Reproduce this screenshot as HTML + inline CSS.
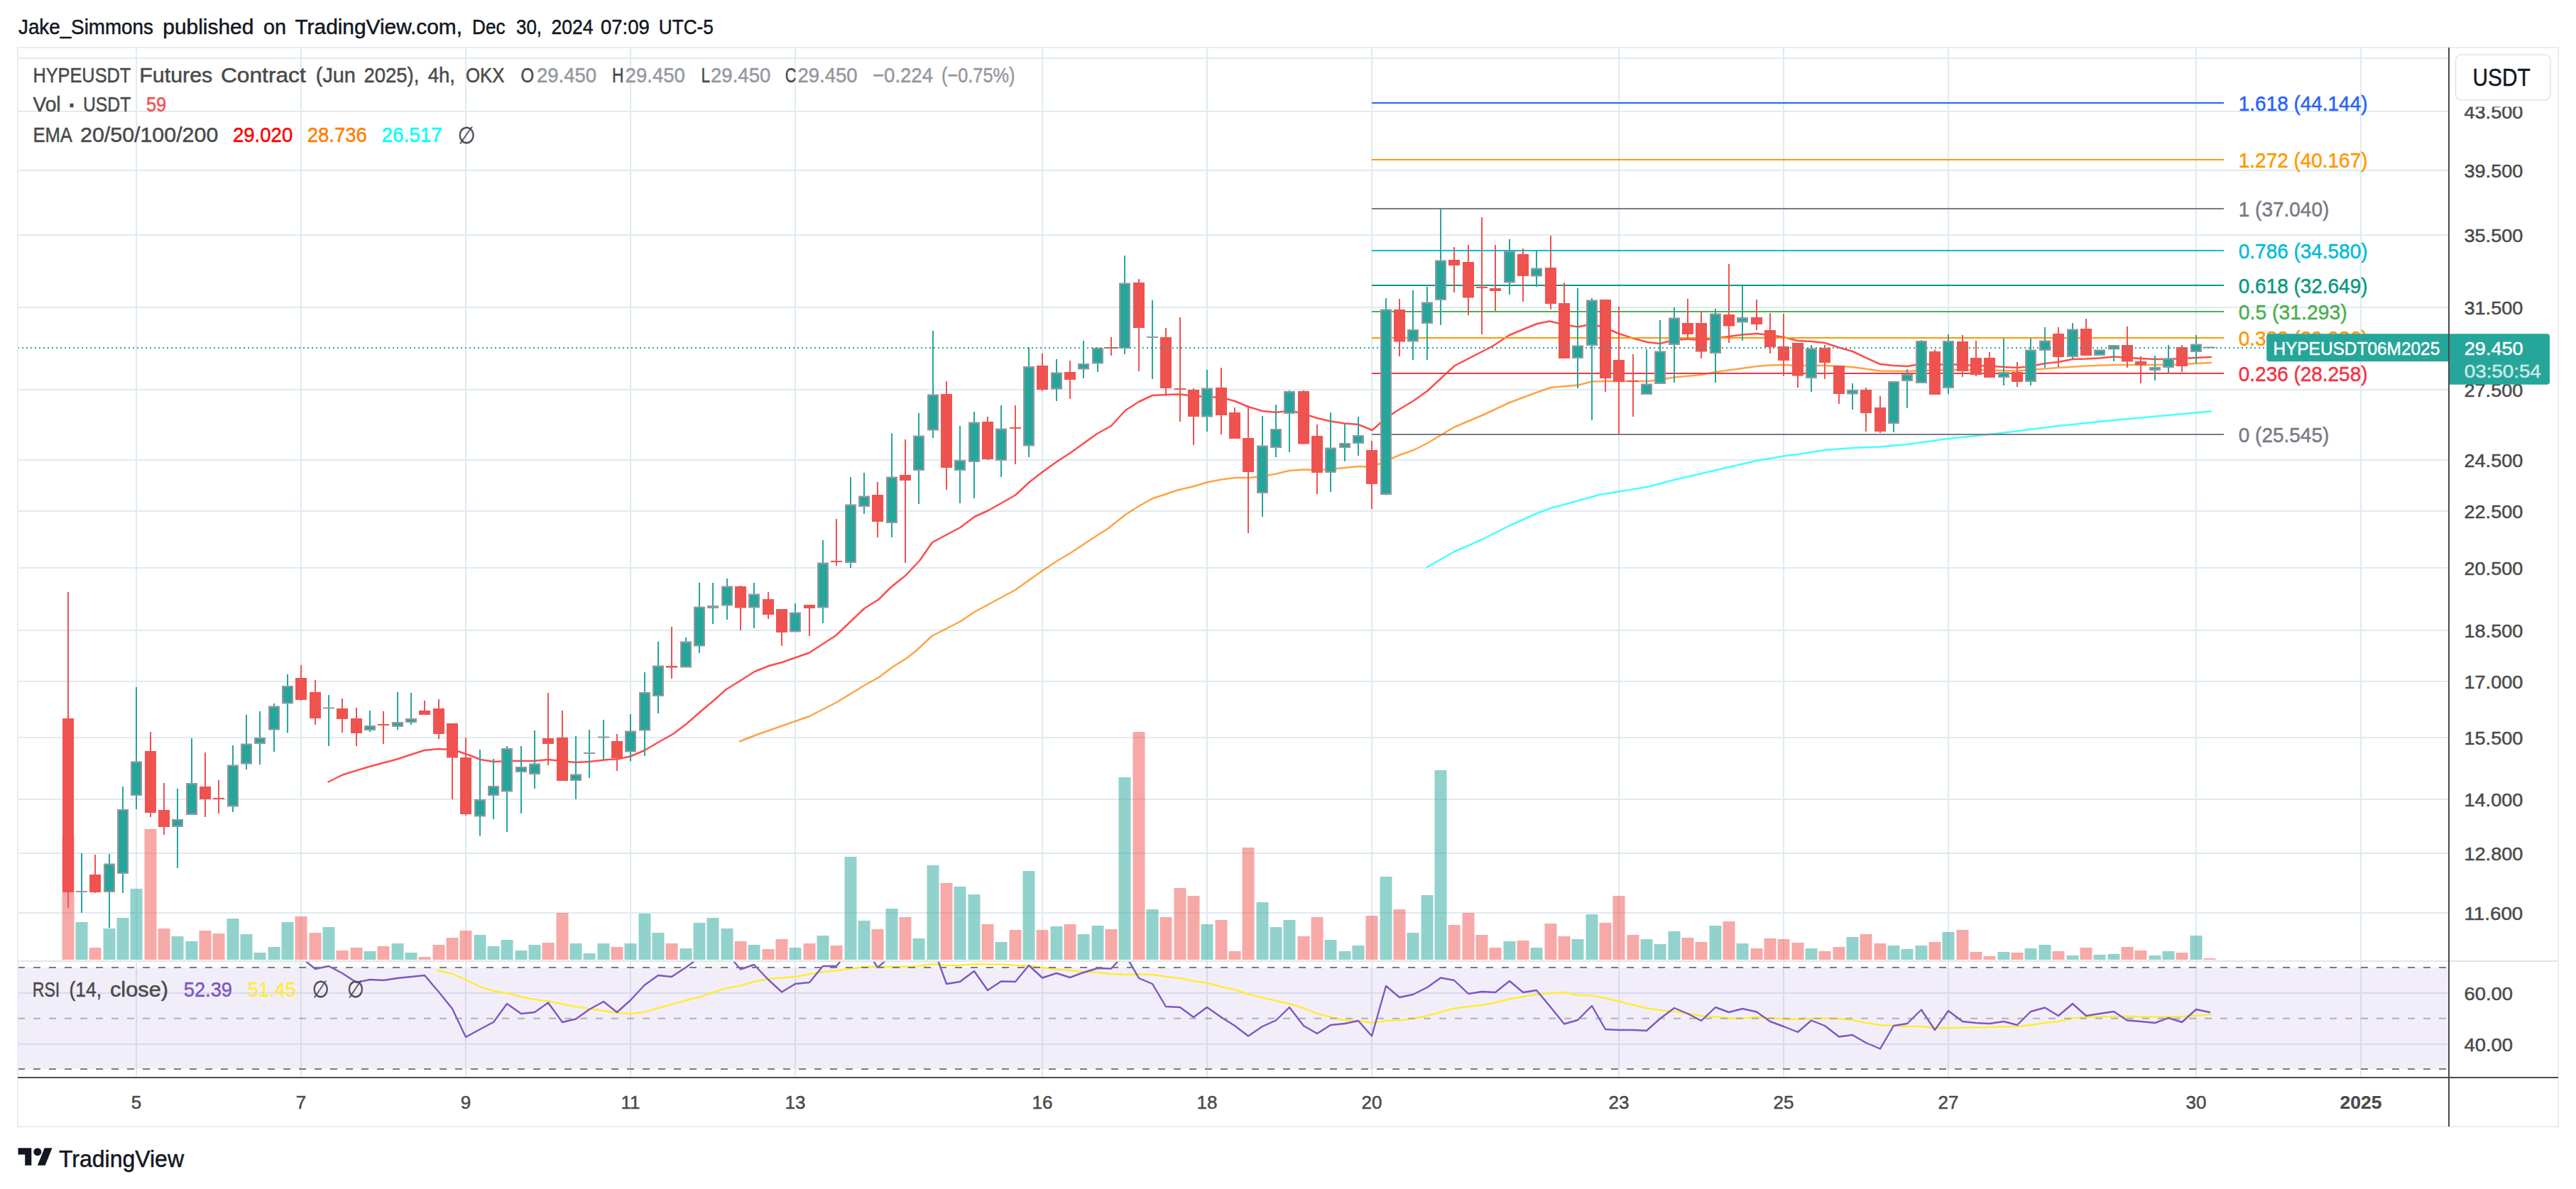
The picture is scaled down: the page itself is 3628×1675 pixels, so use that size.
<!DOCTYPE html>
<html lang="en"><head><meta charset="utf-8"><title>HYPEUSDT Futures Contract (Jun 2025), 4h, OKX - TradingView</title>
<style>html,body{margin:0;padding:0;background:#fff}svg{display:block}</style></head>
<body>
<svg width="3628" height="1675" viewBox="0 0 3628 1675" font-family='"Liberation Sans", "DejaVu Sans", sans-serif'>
<rect width="3628" height="1675" fill="#fff"/>
<defs>
<clipPath id="cm"><rect x="25" y="67" width="3424" height="1286"/></clipPath>
<clipPath id="cr"><rect x="25" y="1355" width="3424" height="163"/></clipPath>
<clipPath id="ca"><rect x="3449" y="150.5" width="154" height="1203.5"/></clipPath>
</defs>
<g stroke="#e0eaf1" stroke-width="2" fill="none">
<path d="M25 82H3449"/>
<path d="M25 157H3449"/>
<path d="M25 240H3449"/>
<path d="M25 331H3449"/>
<path d="M25 433H3449"/>
<path d="M25 549H3449"/>
<path d="M25 648H3449"/>
<path d="M25 720H3449"/>
<path d="M25 800H3449"/>
<path d="M25 888H3449"/>
<path d="M25 960H3449"/>
<path d="M25 1039H3449"/>
<path d="M25 1126H3449"/>
<path d="M25 1202H3449"/>
<path d="M25 1286H3449"/>
<path d="M192 67V1518"/>
<path d="M424 67V1518"/>
<path d="M656 67V1518"/>
<path d="M888 67V1518"/>
<path d="M1120 67V1518"/>
<path d="M1468 67V1518"/>
<path d="M1700 67V1518"/>
<path d="M1932 67V1518"/>
<path d="M2280 67V1518"/>
<path d="M2512 67V1518"/>
<path d="M2744 67V1518"/>
<path d="M3093 67V1518"/>
<path d="M3325 67V1518"/>
<path d="M25 1399H3449"/>
<path d="M25 1471H3449"/>
</g>
<rect x="25" y="1363" width="3424" height="143" fill="#7e57c2" fill-opacity="0.1"/>
<g clip-path="url(#cr)">
<path d="M366 1335 L386 1335 L405 1338 L424 1348.6 L444 1363 L463 1361 L482 1363 L502 1363 L521 1363 L540 1363 L560 1363 L579 1363 L598 1363 L618 1363 L637 1363 L656 1363 L676 1363 L695 1363 L714 1363 L734 1363 L753 1363 L772 1363 L792 1363 L811 1363 L830 1363 L850 1363 L869 1363 L888 1363 L908 1363 L927 1363 L946 1363 L966 1362.7 L985 1349 L1004 1340 L1024 1343.3 L1043 1363 L1062 1359 L1082 1363 L1101 1363 L1120 1363 L1140 1363 L1159 1361 L1178 1361 L1198 1336 L1217 1333 L1236 1363 L1256 1345.6 L1275 1338 L1294 1338 L1314 1333.8 L1333 1363 L1352 1363 L1372 1363 L1391 1363 L1410 1363 L1430 1363 L1449 1360 L1468 1363 L1488 1363 L1507 1363 L1526 1363 L1546 1363 L1565 1363 L1584 1343.5 L1604 1363 L1623 1363 L1642 1363 L1662 1363 L1681 1363 L1700 1363 L1720 1363 L1739 1363 L1758 1363 L1778 1363 L1797 1363 L1816 1363 L1836 1363 L1855 1363 L1874 1363 L1894 1363 L1913 1363 L1932 1363 L1952 1363 L1971 1363 L1990 1363 L2010 1363 L2029 1363 L2048 1363 L2068 1363 L2087 1363 L2106 1363 L2126 1363 L2145 1363 L2164 1363 L2184 1363 L2203 1363 L2222 1363 L2242 1363 L2261 1363 L2280 1363 L2300 1363 L2319 1363 L2338 1363 L2358 1363 L2377 1363 L2396 1363 L2416 1363 L2435 1363 L2454 1363 L2474 1363 L2493 1363 L2512 1363 L2532 1363 L2551 1363 L2570 1363 L2590 1363 L2609 1363 L2628 1363 L2648 1363 L2667 1363 L2686 1363 L2706 1363 L2725 1363 L2744 1363 L2764 1363 L2783 1363 L2802 1363 L2822 1363 L2841 1363 L2860 1363 L2880 1363 L2899 1363 L2919 1363 L2938 1363 L2957 1363 L2977 1363 L2996 1363 L3015 1363 L3035 1363 L3054 1363 L3073 1363 L3093 1363 L3112 1363 L3112 1363 L366 1363 Z" fill="#4caf50" fill-opacity="0.06"/>
</g>
<g clip-path="url(#cr)" fill="none" stroke-linejoin="round" stroke-linecap="round">
<polyline stroke="#ffeb3b" stroke-width="2.4" points="616,1367 637.5,1372 657.5,1381 676,1390 695.5,1396 715,1399.5 733,1404 752.5,1408 772.5,1410.5 792.5,1414.5 810,1418 830,1421 850,1424 870,1427 889,1428 907.5,1426 927.5,1420 947.5,1414.5 967.5,1409 987.5,1404 1005,1398 1023,1392 1041.5,1389 1062,1383 1081.5,1379 1100,1377.5 1120,1376 1140,1372.5 1159.5,1369 1178,1367.5 1196.5,1365 1216.5,1362 1237.5,1362 1256.5,1362 1275,1362 1294,1361 1313,1358 1332,1360 1352.5,1360 1372,1358 1390,1358.5 1410,1358.5 1430,1360 1450,1360.5 1468,1363 1488,1365.5 1507,1367 1526.5,1369 1544,1370 1565,1372 1584,1373 1603,1372.5 1623,1373 1643,1376 1662.5,1378 1680,1382 1700,1384.5 1720,1390 1740,1394.5 1757.5,1400.5 1778,1405.5 1797.5,1410 1815.5,1414 1835.5,1420 1855,1428 1875,1433 1893,1437 1912.5,1438 1932.5,1441 1952.5,1438 1970.5,1437.5 1990,1435 2010,1431 2030,1425.5 2048,1420.5 2068,1418 2087.5,1416 2105.5,1412.5 2125,1407.5 2145,1404 2165,1401 2183.5,1399 2202.5,1398 2222.5,1402 2242.5,1402.5 2260.5,1406 2279.5,1410.5 2301,1416 2320,1420.5 2338,1423 2357.5,1425 2376.5,1427.5 2395,1431 2415,1432.5 2435,1434.5 2455,1434.5 2472.5,1433 2492.5,1434 2512.5,1435.5 2532.5,1436 2550,1435 2570,1434.5 2590,1435 2610,1437 2628,1441 2648,1444 2667,1445 2685,1446 2705,1446 2725,1448 2745,1448 2782.5,1447.5 2803,1447 2840,1446 2861,1444 2880,1441 2899,1439 2919,1434.5 2938,1433 2976,1432 2995,1431.5 3015,1432.5 3035,1432.5 3073,1432 3093,1430.5 3114,1429"/>
<polyline stroke="#7e57c2" stroke-width="2.4" points="366,1335 386,1335 405,1338 424,1348.6 444,1365 463,1361 482,1371 502,1384 521,1380 540,1381 560,1378 579,1376 598,1374 618,1397.5 637,1421 656,1461 676,1450 695,1440 714,1414 734,1428 753,1426 772,1412.5 792,1440 811,1435.5 830,1422 850,1411 869,1426 888,1409 908,1387.5 927,1374 946,1376 966,1362.7 985,1349 1004,1340 1024,1343.3 1043,1365.5 1062,1359 1082,1380 1101,1397.5 1120,1386 1140,1384 1159,1361 1178,1361 1198,1336 1217,1333 1236,1363 1256,1345.6 1275,1338 1294,1338 1314,1333.8 1333,1386 1352,1383 1372,1368 1391,1395 1410,1382.5 1430,1383 1449,1360 1468,1377.5 1488,1371 1507,1377 1526,1370 1546,1364 1565,1364.5 1584,1343.5 1604,1378 1623,1386 1642,1418 1662,1419 1681,1433 1700,1419 1720,1433 1739,1445 1758,1459.5 1778,1446 1797,1437.5 1816,1419 1836,1445 1855,1456 1874,1444 1894,1442 1913,1438 1932,1459.5 1952,1389 1971,1405 1990,1401 2010,1391 2029,1377.5 2048,1381 2068,1400 2087,1397 2106,1398 2126,1382 2145,1398 2164,1395 2184,1419 2203,1442.5 2222,1437 2242,1417 2261,1450 2280,1451 2300,1451 2319,1452 2338,1435 2358,1420 2377,1428 2396,1438 2416,1419 2435,1426 2454,1421 2474,1425.5 2493,1439 2512,1446 2532,1454 2551,1437.5 2570,1445 2590,1460.5 2609,1458 2628,1469 2648,1477.5 2667,1445 2686,1442 2706,1422.5 2725,1451 2744,1424 2764,1439 2783,1441 2802,1442 2822,1439 2841,1444 2860,1425 2880,1419.5 2899,1431 2919,1414 2938,1431 2957,1428 2977,1425 2996,1437.5 3015,1439 3035,1441 3054,1434 3073,1440 3093,1422 3112,1426"/>
</g>
<g fill="none" stroke-width="2" stroke-dasharray="10 12">
<path d="M25 1363H3446" stroke="#787b86"/>
<path d="M25 1506H3446" stroke="#787b86"/>
<path d="M25 1434.7H3446" stroke="#787b86" stroke-opacity="0.55"/>
</g>
<g clip-path="url(#cm)">
<g fill="#26a69a" fill-opacity="0.5">
<rect x="106.5" y="1299" width="17" height="53"/>
<rect x="145.5" y="1308" width="17" height="44"/>
<rect x="164.5" y="1293" width="17" height="59"/>
<rect x="183.5" y="1252" width="17" height="100"/>
<rect x="241.5" y="1319" width="17" height="33"/>
<rect x="261.5" y="1326" width="17" height="26"/>
<rect x="319.5" y="1294" width="17" height="58"/>
<rect x="338.5" y="1316" width="17" height="36"/>
<rect x="357.5" y="1342" width="17" height="10"/>
<rect x="377.5" y="1334" width="17" height="18"/>
<rect x="396.5" y="1299" width="17" height="53"/>
<rect x="454.5" y="1306" width="17" height="46"/>
<rect x="512.5" y="1340" width="17" height="12"/>
<rect x="551.5" y="1329" width="17" height="23"/>
<rect x="570.5" y="1342" width="17" height="10"/>
<rect x="667.5" y="1317" width="17" height="35"/>
<rect x="686.5" y="1333" width="17" height="19"/>
<rect x="705.5" y="1324" width="17" height="28"/>
<rect x="725.5" y="1339" width="17" height="13"/>
<rect x="744.5" y="1331" width="17" height="21"/>
<rect x="802.5" y="1329" width="17" height="23"/>
<rect x="821.5" y="1343" width="17" height="9"/>
<rect x="841.5" y="1329" width="17" height="23"/>
<rect x="879.5" y="1329" width="17" height="23"/>
<rect x="899.5" y="1287" width="17" height="65"/>
<rect x="918.5" y="1314" width="17" height="38"/>
<rect x="957.5" y="1336" width="17" height="16"/>
<rect x="976.5" y="1300" width="17" height="52"/>
<rect x="995.5" y="1293" width="17" height="59"/>
<rect x="1015.5" y="1308" width="17" height="44"/>
<rect x="1053.5" y="1331" width="17" height="21"/>
<rect x="1111.5" y="1335" width="17" height="17"/>
<rect x="1150.5" y="1318" width="17" height="34"/>
<rect x="1189.5" y="1207" width="17" height="145"/>
<rect x="1208.5" y="1297" width="17" height="55"/>
<rect x="1247.5" y="1280" width="17" height="72"/>
<rect x="1285.5" y="1322" width="17" height="30"/>
<rect x="1305.5" y="1219" width="17" height="133"/>
<rect x="1343.5" y="1249" width="17" height="103"/>
<rect x="1363.5" y="1260" width="17" height="92"/>
<rect x="1401.5" y="1327" width="17" height="25"/>
<rect x="1440.5" y="1227" width="17" height="125"/>
<rect x="1479.5" y="1305" width="17" height="47"/>
<rect x="1517.5" y="1316" width="17" height="36"/>
<rect x="1537.5" y="1304" width="17" height="48"/>
<rect x="1575.5" y="1095" width="17" height="257"/>
<rect x="1614.5" y="1281" width="17" height="71"/>
<rect x="1691.5" y="1302" width="17" height="50"/>
<rect x="1769.5" y="1271" width="17" height="81"/>
<rect x="1788.5" y="1306" width="17" height="46"/>
<rect x="1807.5" y="1296" width="17" height="56"/>
<rect x="1865.5" y="1324" width="17" height="28"/>
<rect x="1885.5" y="1340" width="17" height="12"/>
<rect x="1904.5" y="1332" width="17" height="20"/>
<rect x="1943.5" y="1235" width="17" height="117"/>
<rect x="1981.5" y="1314" width="17" height="38"/>
<rect x="2001.5" y="1261" width="17" height="91"/>
<rect x="2020.5" y="1085" width="17" height="267"/>
<rect x="2117.5" y="1326" width="17" height="26"/>
<rect x="2155.5" y="1335" width="17" height="17"/>
<rect x="2213.5" y="1323" width="17" height="29"/>
<rect x="2233.5" y="1288" width="17" height="64"/>
<rect x="2310.5" y="1323" width="17" height="29"/>
<rect x="2329.5" y="1330" width="17" height="22"/>
<rect x="2349.5" y="1312" width="17" height="40"/>
<rect x="2407.5" y="1304" width="17" height="48"/>
<rect x="2445.5" y="1329" width="17" height="23"/>
<rect x="2542.5" y="1336" width="17" height="16"/>
<rect x="2600.5" y="1320" width="17" height="32"/>
<rect x="2658.5" y="1332" width="17" height="20"/>
<rect x="2677.5" y="1337" width="17" height="15"/>
<rect x="2697.5" y="1332" width="17" height="20"/>
<rect x="2735.5" y="1313" width="17" height="39"/>
<rect x="2813.5" y="1341" width="17" height="11"/>
<rect x="2851.5" y="1336" width="17" height="16"/>
<rect x="2871.5" y="1331" width="17" height="21"/>
<rect x="2910.5" y="1346" width="17" height="6"/>
<rect x="2948.5" y="1345" width="17" height="7"/>
<rect x="2968.5" y="1344" width="17" height="8"/>
<rect x="3026.5" y="1346" width="17" height="6"/>
<rect x="3045.5" y="1340" width="17" height="12"/>
<rect x="3084.5" y="1318" width="17" height="34"/>
</g><g fill="#ef5350" fill-opacity="0.5">
<rect x="87.5" y="1179" width="17" height="173"/>
<rect x="125.5" y="1335" width="17" height="17"/>
<rect x="203.5" y="1168" width="17" height="184"/>
<rect x="222.5" y="1308" width="17" height="44"/>
<rect x="280.5" y="1311" width="17" height="41"/>
<rect x="299.5" y="1315" width="17" height="37"/>
<rect x="415.5" y="1291" width="17" height="61"/>
<rect x="435.5" y="1314" width="17" height="38"/>
<rect x="473.5" y="1339" width="17" height="13"/>
<rect x="493.5" y="1335" width="17" height="17"/>
<rect x="531.5" y="1333" width="17" height="19"/>
<rect x="589.5" y="1348" width="17" height="4"/>
<rect x="609.5" y="1331" width="17" height="21"/>
<rect x="628.5" y="1321" width="17" height="31"/>
<rect x="647.5" y="1311" width="17" height="41"/>
<rect x="763.5" y="1328" width="17" height="24"/>
<rect x="783.5" y="1286" width="17" height="66"/>
<rect x="860.5" y="1334" width="17" height="18"/>
<rect x="937.5" y="1329" width="17" height="23"/>
<rect x="1034.5" y="1326" width="17" height="26"/>
<rect x="1073.5" y="1337" width="17" height="15"/>
<rect x="1092.5" y="1323" width="17" height="29"/>
<rect x="1131.5" y="1329" width="17" height="23"/>
<rect x="1169.5" y="1332" width="17" height="20"/>
<rect x="1227.5" y="1309" width="17" height="43"/>
<rect x="1266.5" y="1292" width="17" height="60"/>
<rect x="1324.5" y="1244" width="17" height="108"/>
<rect x="1382.5" y="1302" width="17" height="50"/>
<rect x="1421.5" y="1310" width="17" height="42"/>
<rect x="1459.5" y="1310" width="17" height="42"/>
<rect x="1498.5" y="1302" width="17" height="50"/>
<rect x="1556.5" y="1309" width="17" height="43"/>
<rect x="1595.5" y="1031" width="17" height="321"/>
<rect x="1633.5" y="1292" width="17" height="60"/>
<rect x="1653.5" y="1251" width="17" height="101"/>
<rect x="1672.5" y="1262" width="17" height="90"/>
<rect x="1711.5" y="1296" width="17" height="56"/>
<rect x="1730.5" y="1340" width="17" height="12"/>
<rect x="1749.5" y="1194" width="17" height="158"/>
<rect x="1827.5" y="1319" width="17" height="33"/>
<rect x="1846.5" y="1292" width="17" height="60"/>
<rect x="1923.5" y="1290" width="17" height="62"/>
<rect x="1962.5" y="1281" width="17" height="71"/>
<rect x="2039.5" y="1303" width="17" height="49"/>
<rect x="2059.5" y="1286" width="17" height="66"/>
<rect x="2078.5" y="1317" width="17" height="35"/>
<rect x="2097.5" y="1335" width="17" height="17"/>
<rect x="2136.5" y="1325" width="17" height="27"/>
<rect x="2175.5" y="1301" width="17" height="51"/>
<rect x="2194.5" y="1319" width="17" height="33"/>
<rect x="2252.5" y="1300" width="17" height="52"/>
<rect x="2271.5" y="1262" width="17" height="90"/>
<rect x="2291.5" y="1317" width="17" height="35"/>
<rect x="2368.5" y="1321" width="17" height="31"/>
<rect x="2387.5" y="1327" width="17" height="25"/>
<rect x="2426.5" y="1298" width="17" height="54"/>
<rect x="2465.5" y="1336" width="17" height="16"/>
<rect x="2484.5" y="1322" width="17" height="30"/>
<rect x="2503.5" y="1323" width="17" height="29"/>
<rect x="2523.5" y="1328" width="17" height="24"/>
<rect x="2561.5" y="1340" width="17" height="12"/>
<rect x="2581.5" y="1334" width="17" height="18"/>
<rect x="2619.5" y="1316" width="17" height="36"/>
<rect x="2639.5" y="1329" width="17" height="23"/>
<rect x="2716.5" y="1327" width="17" height="25"/>
<rect x="2755.5" y="1310" width="17" height="42"/>
<rect x="2774.5" y="1341" width="17" height="11"/>
<rect x="2793.5" y="1347" width="17" height="5"/>
<rect x="2832.5" y="1342" width="17" height="10"/>
<rect x="2890.5" y="1340" width="17" height="12"/>
<rect x="2929.5" y="1335" width="17" height="17"/>
<rect x="2987.5" y="1334" width="17" height="18"/>
<rect x="3006.5" y="1339" width="17" height="13"/>
<rect x="3064.5" y="1342" width="17" height="10"/>
<rect x="3103.5" y="1350" width="17" height="2"/>
</g>
<polyline fill="none" stroke="#00ffff" stroke-width="2.5" stroke-opacity="0.72" stroke-linejoin="round" stroke-linecap="round" points="2010,799 2047.5,777.5 2087.5,760 2125,741 2165,723 2185,715.5 2204,710.5 2252.5,697 2280,692.5 2320,686 2358,676 2416,662.5 2474,649 2512,642.5 2532,640 2570,634 2609,631 2648,629.5 2686,626 2744,618 2783,614 2822.5,609.5 2899,600 2977,592 3054,585 3114,579.5"/>
<polyline fill="none" stroke="#ff7f00" stroke-width="2.5" stroke-opacity="0.72" stroke-linejoin="round" stroke-linecap="round" points="1042,1044.5 1063,1036 1083,1029 1140,1009 1179,989 1219,964.5 1238,954 1256.5,940 1276.5,927.5 1290,917 1312.5,896 1352.5,875.5 1372.5,862 1430,831 1468,804 1487.5,791 1510,777.5 1544,755 1560,745 1585,725 1604,713 1622.5,702.5 1660,690 1680,685.5 1700,679.5 1720,675.5 1740,673 1759,673 1777.5,671 1797,667.5 1816,663 1836,661.5 1855,662 1874,661 1894,659 1913,657 1932,658 1952,649.5 1971,641 1991,634 2010,624.5 2030,612.5 2047.5,602 2087.5,585 2105,577 2125,567.5 2165,552.5 2184,546 2222.5,542.5 2242.5,537.5 2261,537 2320,537 2338,535 2358,531.5 2396,528 2416,524 2435,521.5 2474,516 2493,514.5 2512,514 2532,515 2570,515 2609,517 2648,522.5 2686,523 2706,522 2744,521 2783,521 2822,522 2841,522.5 2860,521 2899,518 2938,515.5 2977,514 3015,514 3054,514 3073,513 3093,512 3114,511"/>
<polyline fill="none" stroke="#ff0000" stroke-width="2.5" stroke-opacity="0.7" stroke-linejoin="round" stroke-linecap="round" points="462.5,1101.5 482.5,1091.5 520,1080 557.5,1070 597.5,1057 617.5,1055 632.5,1056 644,1058 664,1065 676.5,1070 695,1073 719,1072 751.5,1072 771.5,1070 794,1072.5 810,1074 830,1073 856.5,1070 869,1069.5 888,1065.5 908,1057 926.5,1046 948,1034 966.5,1020 986.5,1002.5 1005,987 1023,971 1044,958 1063,946 1083,938 1101.5,933 1140,919.5 1177.5,895 1217.5,857 1237.5,844.5 1255,827 1275,811 1295,790 1313,764 1352.5,743 1372.5,728 1391,719.5 1410,709 1430,697.5 1450,679 1468,665 1487.5,651 1507.5,638 1545,611 1565,600 1585,578 1604,566 1623,557 1642.5,556 1662,555.5 1682.5,558 1720,560 1739,565 1758,573 1778,579 1797,581 1817.5,578.5 1836,583 1855,589 1874,593.5 1894,596.5 1913,598 1932.5,606 1952,589 1971,576.5 1991,564.5 2010,551 2030,532.5 2049,515 2102.5,487.5 2125,472.5 2145,464 2165,456 2182.5,452.5 2203,457.5 2222.5,460.5 2242,456.5 2261,462 2280,470 2300,476.5 2320,482 2338,484 2358,479 2377,477.5 2396,479.5 2416,476.5 2435,474 2454,471.5 2474,470 2493,472 2512,475 2532,480 2551,481 2570,483 2590,489.5 2609,495 2628,504 2648,513 2667,515 2686,516 2706,512.5 2725,514 2744,513 2764,514 2783,515 2802,515.5 2822,517 2841,518 2860,516 2880,512 2899,510 2919,506 2938,505.5 2957.5,504.5 2977,502.5 2996,504 3015,505 3035,506 3054,506 3073,505 3093,504 3114,503"/>
<path d="M1932 145H3132" stroke="#2962ff" stroke-width="2" fill="none"/>
<path d="M1932 225H3132" stroke="#ff9800" stroke-width="2" fill="none"/>
<path d="M1932 294H3132" stroke="#787b86" stroke-width="2" fill="none"/>
<path d="M1932 353H3132" stroke="#00bcd4" stroke-width="2" fill="none"/>
<path d="M1932 402H3132" stroke="#089981" stroke-width="2" fill="none"/>
<path d="M1932 439H3132" stroke="#4caf50" stroke-width="2" fill="none"/>
<path d="M1932 476H3132" stroke="#ff9800" stroke-width="2" fill="none"/>
<path d="M1932 526H3132" stroke="#f23645" stroke-width="2" fill="none"/>
<path d="M1932 612H3132" stroke="#787b86" stroke-width="2" fill="none"/>
<text x="3152.8" y="155.7" font-size="29.4" fill="#2962ff" stroke="#2962ff" stroke-width="0.5" textLength="181.7" lengthAdjust="spacingAndGlyphs">1.618 (44.144)</text>
<text x="3152.8" y="235.7" font-size="29.4" fill="#ff9800" stroke="#ff9800" stroke-width="0.5" textLength="181.7" lengthAdjust="spacingAndGlyphs">1.272 (40.167)</text>
<text x="3152.8" y="304.7" font-size="29.4" fill="#787b86" stroke="#787b86" stroke-width="0.5" textLength="127.5" lengthAdjust="spacingAndGlyphs">1 (37.040)</text>
<text x="3152.8" y="363.7" font-size="29.4" fill="#00bcd4" stroke="#00bcd4" stroke-width="0.5" textLength="181.7" lengthAdjust="spacingAndGlyphs">0.786 (34.580)</text>
<text x="3152.8" y="412.7" font-size="29.4" fill="#089981" stroke="#089981" stroke-width="0.5" textLength="181.7" lengthAdjust="spacingAndGlyphs">0.618 (32.649)</text>
<text x="3152.8" y="449.7" font-size="29.4" fill="#4caf50" stroke="#4caf50" stroke-width="0.5" textLength="153" lengthAdjust="spacingAndGlyphs">0.5 (31.293)</text>
<text x="3152.8" y="486.7" font-size="29.4" fill="#ff9800" stroke="#ff9800" stroke-width="0.5" textLength="181.7" lengthAdjust="spacingAndGlyphs">0.382 (29.936)</text>
<text x="3152.8" y="536.7" font-size="29.4" fill="#f23645" stroke="#f23645" stroke-width="0.5" textLength="181.7" lengthAdjust="spacingAndGlyphs">0.236 (28.258)</text>
<text x="3152.8" y="622.7" font-size="29.4" fill="#787b86" stroke="#787b86" stroke-width="0.5" textLength="127.5" lengthAdjust="spacingAndGlyphs">0 (25.545)</text>
<path d="M96 834V1279" stroke="#ef5350" stroke-width="2"/>
<rect x="88" y="1012" width="16" height="245" fill="#ef5350"/>
<path d="M115 1202V1286" stroke="#26a69a" stroke-width="2"/>
<rect x="107" y="1255" width="16" height="2" fill="#9598a1"/>
<path d="M134 1204V1258" stroke="#ef5350" stroke-width="2"/>
<rect x="126" y="1232" width="16" height="25" fill="#ef5350"/>
<path d="M154 1203V1307" stroke="#26a69a" stroke-width="2"/>
<rect x="147" y="1217.5" width="14" height="38.5" fill="#26a69a" stroke="#9598a1" stroke-width="2"/>
<path d="M173 1108V1258" stroke="#26a69a" stroke-width="2"/>
<rect x="166" y="1141" width="14" height="89" fill="#26a69a" stroke="#9598a1" stroke-width="2"/>
<path d="M192 968V1140" stroke="#26a69a" stroke-width="2"/>
<rect x="185" y="1073.5" width="14" height="46.5" fill="#26a69a" stroke="#9598a1" stroke-width="2"/>
<path d="M212 1031V1151" stroke="#ef5350" stroke-width="2"/>
<rect x="204" y="1058" width="16" height="87" fill="#ef5350"/>
<path d="M231 1103V1176" stroke="#ef5350" stroke-width="2"/>
<rect x="223" y="1141" width="16" height="24" fill="#ef5350"/>
<path d="M250 1111V1223" stroke="#26a69a" stroke-width="2"/>
<rect x="243" y="1155" width="14" height="9" fill="#26a69a" stroke="#9598a1" stroke-width="2"/>
<path d="M270 1040V1147.5" stroke="#26a69a" stroke-width="2"/>
<rect x="263" y="1104" width="14" height="43" fill="#26a69a" stroke="#9598a1" stroke-width="2"/>
<path d="M289 1060V1151" stroke="#ef5350" stroke-width="2"/>
<rect x="281" y="1108" width="16" height="18" fill="#ef5350"/>
<path d="M308 1099V1146" stroke="#ef5350" stroke-width="2"/>
<rect x="300" y="1124" width="16" height="2" fill="#ef5350"/>
<path d="M328 1050V1144" stroke="#26a69a" stroke-width="2"/>
<rect x="321" y="1078.5" width="14" height="57" fill="#26a69a" stroke="#9598a1" stroke-width="2"/>
<path d="M347 1007V1084" stroke="#26a69a" stroke-width="2"/>
<rect x="340" y="1048.5" width="14" height="27" fill="#26a69a" stroke="#9598a1" stroke-width="2"/>
<path d="M366 1002V1077" stroke="#26a69a" stroke-width="2"/>
<rect x="359" y="1040" width="14" height="7" fill="#26a69a" stroke="#9598a1" stroke-width="2"/>
<path d="M386 991V1059" stroke="#26a69a" stroke-width="2"/>
<rect x="379" y="995.5" width="14" height="32" fill="#26a69a" stroke="#9598a1" stroke-width="2"/>
<path d="M405 950V1032.5" stroke="#26a69a" stroke-width="2"/>
<rect x="398" y="967" width="14" height="23.5" fill="#26a69a" stroke="#9598a1" stroke-width="2"/>
<path d="M424 937V987" stroke="#ef5350" stroke-width="2"/>
<rect x="416" y="955" width="16" height="31" fill="#ef5350"/>
<path d="M444 958V1021" stroke="#ef5350" stroke-width="2"/>
<rect x="436" y="975" width="16" height="37" fill="#ef5350"/>
<path d="M463 979V1051" stroke="#26a69a" stroke-width="2"/>
<rect x="455" y="996.5" width="16" height="2" fill="#9598a1"/>
<path d="M482 984V1032" stroke="#ef5350" stroke-width="2"/>
<rect x="474" y="998" width="16" height="15" fill="#ef5350"/>
<path d="M502 997V1051" stroke="#ef5350" stroke-width="2"/>
<rect x="494" y="1012" width="16" height="21" fill="#ef5350"/>
<path d="M521 1001V1031" stroke="#26a69a" stroke-width="2"/>
<rect x="514" y="1023" width="14" height="5" fill="#26a69a" stroke="#9598a1" stroke-width="2"/>
<path d="M540 1002V1048" stroke="#ef5350" stroke-width="2"/>
<rect x="532" y="1020" width="16" height="2" fill="#ef5350"/>
<path d="M560 975V1028" stroke="#26a69a" stroke-width="2"/>
<rect x="553" y="1018" width="14" height="5" fill="#26a69a" stroke="#9598a1" stroke-width="2"/>
<path d="M579 976V1021" stroke="#26a69a" stroke-width="2"/>
<rect x="572" y="1013" width="14" height="4" fill="#26a69a" stroke="#9598a1" stroke-width="2"/>
<path d="M598 987V1007" stroke="#ef5350" stroke-width="2"/>
<rect x="590" y="1001" width="16" height="6" fill="#ef5350"/>
<path d="M618 985V1041" stroke="#ef5350" stroke-width="2"/>
<rect x="610" y="998" width="16" height="36" fill="#ef5350"/>
<path d="M637 1019V1126" stroke="#ef5350" stroke-width="2"/>
<rect x="629" y="1019" width="16" height="48.5" fill="#ef5350"/>
<path d="M656 1039V1149" stroke="#ef5350" stroke-width="2"/>
<rect x="648" y="1067" width="16" height="80" fill="#ef5350"/>
<path d="M676 1056V1177.5" stroke="#26a69a" stroke-width="2"/>
<rect x="669" y="1127" width="14" height="22.5" fill="#26a69a" stroke="#9598a1" stroke-width="2"/>
<path d="M695 1069V1154" stroke="#26a69a" stroke-width="2"/>
<rect x="688" y="1108" width="14" height="12" fill="#26a69a" stroke="#9598a1" stroke-width="2"/>
<path d="M714 1051V1172" stroke="#26a69a" stroke-width="2"/>
<rect x="707" y="1055" width="14" height="59.5" fill="#26a69a" stroke="#9598a1" stroke-width="2"/>
<path d="M734 1051V1146" stroke="#26a69a" stroke-width="2"/>
<rect x="727" y="1081" width="14" height="6" fill="#26a69a" stroke="#9598a1" stroke-width="2"/>
<path d="M753 1029V1111" stroke="#26a69a" stroke-width="2"/>
<rect x="746" y="1076.5" width="14" height="13.5" fill="#26a69a" stroke="#9598a1" stroke-width="2"/>
<path d="M772 976V1078" stroke="#ef5350" stroke-width="2"/>
<rect x="764" y="1040" width="16" height="8" fill="#ef5350"/>
<path d="M792 1001V1100" stroke="#ef5350" stroke-width="2"/>
<rect x="784" y="1039" width="16" height="61" fill="#ef5350"/>
<path d="M811 1037V1126" stroke="#26a69a" stroke-width="2"/>
<rect x="804" y="1091.5" width="14" height="7.5" fill="#26a69a" stroke="#9598a1" stroke-width="2"/>
<path d="M830 1028V1096" stroke="#26a69a" stroke-width="2"/>
<rect x="822" y="1060" width="16" height="2" fill="#9598a1"/>
<path d="M850 1014V1071" stroke="#26a69a" stroke-width="2"/>
<rect x="842" y="1037.5" width="16" height="2" fill="#9598a1"/>
<path d="M869 1034V1086" stroke="#ef5350" stroke-width="2"/>
<rect x="861" y="1044" width="16" height="24" fill="#ef5350"/>
<path d="M888 1006V1072.5" stroke="#26a69a" stroke-width="2"/>
<rect x="881" y="1030.5" width="14" height="28" fill="#26a69a" stroke="#9598a1" stroke-width="2"/>
<path d="M908 947V1065" stroke="#26a69a" stroke-width="2"/>
<rect x="901" y="976" width="14" height="52.5" fill="#26a69a" stroke="#9598a1" stroke-width="2"/>
<path d="M927 904V1005" stroke="#26a69a" stroke-width="2"/>
<rect x="920" y="938.5" width="14" height="41.5" fill="#26a69a" stroke="#9598a1" stroke-width="2"/>
<path d="M946 883V956" stroke="#ef5350" stroke-width="2"/>
<rect x="938" y="938" width="16" height="2.5" fill="#ef5350"/>
<path d="M966 898V940" stroke="#26a69a" stroke-width="2"/>
<rect x="959" y="904.5" width="14" height="35" fill="#26a69a" stroke="#9598a1" stroke-width="2"/>
<path d="M985 821V920" stroke="#26a69a" stroke-width="2"/>
<rect x="978" y="855.5" width="14" height="54" fill="#26a69a" stroke="#9598a1" stroke-width="2"/>
<path d="M1004 821V879" stroke="#26a69a" stroke-width="2"/>
<rect x="996" y="853" width="16" height="4" fill="#9598a1"/>
<path d="M1024 815V873" stroke="#26a69a" stroke-width="2"/>
<rect x="1017" y="826.5" width="14" height="26" fill="#26a69a" stroke="#9598a1" stroke-width="2"/>
<path d="M1043 825V888" stroke="#ef5350" stroke-width="2"/>
<rect x="1035" y="826" width="16" height="30.5" fill="#ef5350"/>
<path d="M1062 821V885" stroke="#26a69a" stroke-width="2"/>
<rect x="1055" y="837.5" width="14" height="18" fill="#26a69a" stroke="#9598a1" stroke-width="2"/>
<path d="M1082 834V872" stroke="#ef5350" stroke-width="2"/>
<rect x="1074" y="844" width="16" height="22" fill="#ef5350"/>
<path d="M1101 858V910" stroke="#ef5350" stroke-width="2"/>
<rect x="1093" y="858" width="16" height="33" fill="#ef5350"/>
<path d="M1120 850V890" stroke="#26a69a" stroke-width="2"/>
<rect x="1113" y="863.5" width="14" height="26" fill="#26a69a" stroke="#9598a1" stroke-width="2"/>
<path d="M1140 852V896" stroke="#ef5350" stroke-width="2"/>
<rect x="1132" y="852" width="16" height="5" fill="#ef5350"/>
<path d="M1159 761V878" stroke="#26a69a" stroke-width="2"/>
<rect x="1152" y="793.5" width="14" height="62" fill="#26a69a" stroke="#9598a1" stroke-width="2"/>
<path d="M1178 731V797" stroke="#ef5350" stroke-width="2"/>
<rect x="1170" y="790" width="16" height="2" fill="#ef5350"/>
<path d="M1198 672V800" stroke="#26a69a" stroke-width="2"/>
<rect x="1191" y="711.5" width="14" height="80.5" fill="#26a69a" stroke="#9598a1" stroke-width="2"/>
<path d="M1217 666V724" stroke="#26a69a" stroke-width="2"/>
<rect x="1210" y="699.5" width="14" height="13.5" fill="#26a69a" stroke="#9598a1" stroke-width="2"/>
<path d="M1236 679V757" stroke="#ef5350" stroke-width="2"/>
<rect x="1228" y="697" width="16" height="38" fill="#ef5350"/>
<path d="M1256 610.5V757" stroke="#26a69a" stroke-width="2"/>
<rect x="1249" y="672.5" width="14" height="63.5" fill="#26a69a" stroke="#9598a1" stroke-width="2"/>
<path d="M1275 619V793" stroke="#ef5350" stroke-width="2"/>
<rect x="1267" y="669" width="16" height="8" fill="#ef5350"/>
<path d="M1294 582V710" stroke="#26a69a" stroke-width="2"/>
<rect x="1287" y="614.5" width="14" height="47.5" fill="#26a69a" stroke="#9598a1" stroke-width="2"/>
<path d="M1314 466V617" stroke="#26a69a" stroke-width="2"/>
<rect x="1307" y="556.5" width="14" height="49" fill="#26a69a" stroke="#9598a1" stroke-width="2"/>
<path d="M1333 537V690" stroke="#ef5350" stroke-width="2"/>
<rect x="1325" y="555" width="16" height="104" fill="#ef5350"/>
<path d="M1352 600V709" stroke="#26a69a" stroke-width="2"/>
<rect x="1345" y="649" width="14" height="13" fill="#26a69a" stroke="#9598a1" stroke-width="2"/>
<path d="M1372 580V702" stroke="#26a69a" stroke-width="2"/>
<rect x="1365" y="595.5" width="14" height="54.5" fill="#26a69a" stroke="#9598a1" stroke-width="2"/>
<path d="M1391 587V648" stroke="#ef5350" stroke-width="2"/>
<rect x="1383" y="594" width="16" height="53" fill="#ef5350"/>
<path d="M1410 571V672" stroke="#26a69a" stroke-width="2"/>
<rect x="1403" y="604.5" width="14" height="43.5" fill="#26a69a" stroke="#9598a1" stroke-width="2"/>
<path d="M1430 571V654" stroke="#ef5350" stroke-width="2"/>
<rect x="1422" y="602" width="16" height="2" fill="#ef5350"/>
<path d="M1449 489V644" stroke="#26a69a" stroke-width="2"/>
<rect x="1442" y="517" width="14" height="110.5" fill="#26a69a" stroke="#9598a1" stroke-width="2"/>
<path d="M1468 498V551" stroke="#ef5350" stroke-width="2"/>
<rect x="1460" y="515" width="16" height="34" fill="#ef5350"/>
<path d="M1488 506V565" stroke="#26a69a" stroke-width="2"/>
<rect x="1481" y="525.5" width="14" height="22" fill="#26a69a" stroke="#9598a1" stroke-width="2"/>
<path d="M1507 508V562" stroke="#ef5350" stroke-width="2"/>
<rect x="1499" y="524" width="16" height="11" fill="#ef5350"/>
<path d="M1526 480V533" stroke="#26a69a" stroke-width="2"/>
<rect x="1519" y="513" width="14" height="6.5" fill="#26a69a" stroke="#9598a1" stroke-width="2"/>
<path d="M1546 489.5V524" stroke="#26a69a" stroke-width="2"/>
<rect x="1539" y="491" width="14" height="20.5" fill="#26a69a" stroke="#9598a1" stroke-width="2"/>
<path d="M1565 475V501" stroke="#ef5350" stroke-width="2"/>
<rect x="1557" y="489" width="16" height="2" fill="#ef5350"/>
<path d="M1584 360V499" stroke="#26a69a" stroke-width="2"/>
<rect x="1577" y="399.5" width="14" height="90.5" fill="#26a69a" stroke="#9598a1" stroke-width="2"/>
<path d="M1604 393V523" stroke="#ef5350" stroke-width="2"/>
<rect x="1596" y="398" width="16" height="64" fill="#ef5350"/>
<path d="M1623 423V534" stroke="#26a69a" stroke-width="2"/>
<rect x="1615" y="474" width="16" height="2" fill="#9598a1"/>
<path d="M1642 462V558" stroke="#ef5350" stroke-width="2"/>
<rect x="1634" y="475" width="16" height="72" fill="#ef5350"/>
<path d="M1662 447V594" stroke="#ef5350" stroke-width="2"/>
<rect x="1654" y="547" width="16" height="2" fill="#ef5350"/>
<path d="M1681 547V627" stroke="#ef5350" stroke-width="2"/>
<rect x="1673" y="549" width="16" height="38" fill="#ef5350"/>
<path d="M1700 521V608" stroke="#26a69a" stroke-width="2"/>
<rect x="1693" y="547.5" width="14" height="39" fill="#26a69a" stroke="#9598a1" stroke-width="2"/>
<path d="M1720 518V612" stroke="#ef5350" stroke-width="2"/>
<rect x="1712" y="546" width="16" height="39" fill="#ef5350"/>
<path d="M1739 574V618" stroke="#ef5350" stroke-width="2"/>
<rect x="1731" y="581" width="16" height="37" fill="#ef5350"/>
<path d="M1758 571V751" stroke="#ef5350" stroke-width="2"/>
<rect x="1750" y="617" width="16" height="48" fill="#ef5350"/>
<path d="M1778 586V728" stroke="#26a69a" stroke-width="2"/>
<rect x="1771" y="628.5" width="14" height="65.5" fill="#26a69a" stroke="#9598a1" stroke-width="2"/>
<path d="M1797 570V644" stroke="#26a69a" stroke-width="2"/>
<rect x="1790" y="605" width="14" height="25" fill="#26a69a" stroke="#9598a1" stroke-width="2"/>
<path d="M1816 550V637" stroke="#26a69a" stroke-width="2"/>
<rect x="1809" y="552" width="14" height="30" fill="#26a69a" stroke="#9598a1" stroke-width="2"/>
<path d="M1836 550V625.5" stroke="#ef5350" stroke-width="2"/>
<rect x="1828" y="551" width="16" height="74.5" fill="#ef5350"/>
<path d="M1855 598V696" stroke="#ef5350" stroke-width="2"/>
<rect x="1847" y="614" width="16" height="52" fill="#ef5350"/>
<path d="M1874 581V693" stroke="#26a69a" stroke-width="2"/>
<rect x="1867" y="631.5" width="14" height="33.5" fill="#26a69a" stroke="#9598a1" stroke-width="2"/>
<path d="M1894 597V650" stroke="#26a69a" stroke-width="2"/>
<rect x="1887" y="625" width="14" height="5" fill="#26a69a" stroke="#9598a1" stroke-width="2"/>
<path d="M1913 587V642" stroke="#26a69a" stroke-width="2"/>
<rect x="1906" y="614" width="14" height="10" fill="#26a69a" stroke="#9598a1" stroke-width="2"/>
<path d="M1932 621V717" stroke="#ef5350" stroke-width="2"/>
<rect x="1924" y="634" width="16" height="48" fill="#ef5350"/>
<path d="M1952 420V697.5" stroke="#26a69a" stroke-width="2"/>
<rect x="1945" y="436.5" width="14" height="259.5" fill="#26a69a" stroke="#9598a1" stroke-width="2"/>
<path d="M1971 421V502" stroke="#ef5350" stroke-width="2"/>
<rect x="1963" y="436" width="16" height="45.5" fill="#ef5350"/>
<path d="M1990 409V507" stroke="#26a69a" stroke-width="2"/>
<rect x="1983" y="465" width="14" height="15.5" fill="#26a69a" stroke="#9598a1" stroke-width="2"/>
<path d="M2010 404V507" stroke="#26a69a" stroke-width="2"/>
<rect x="2003" y="426.5" width="14" height="28.5" fill="#26a69a" stroke="#9598a1" stroke-width="2"/>
<path d="M2029 295V458" stroke="#26a69a" stroke-width="2"/>
<rect x="2022" y="367.5" width="14" height="54.5" fill="#26a69a" stroke="#9598a1" stroke-width="2"/>
<path d="M2048 348V412" stroke="#ef5350" stroke-width="2"/>
<rect x="2040" y="366" width="16" height="8" fill="#ef5350"/>
<path d="M2068 345V444" stroke="#ef5350" stroke-width="2"/>
<rect x="2060" y="369" width="16" height="50.5" fill="#ef5350"/>
<path d="M2087 306V471" stroke="#ef5350" stroke-width="2"/>
<rect x="2079" y="404" width="16" height="2" fill="#ef5350"/>
<path d="M2106 345V438" stroke="#ef5350" stroke-width="2"/>
<rect x="2098" y="406" width="16" height="4" fill="#ef5350"/>
<path d="M2126 337V415" stroke="#26a69a" stroke-width="2"/>
<rect x="2119" y="354.5" width="14" height="43" fill="#26a69a" stroke="#9598a1" stroke-width="2"/>
<path d="M2145 350V425" stroke="#ef5350" stroke-width="2"/>
<rect x="2137" y="358" width="16" height="31" fill="#ef5350"/>
<path d="M2164 353V404" stroke="#26a69a" stroke-width="2"/>
<rect x="2157" y="378.5" width="14" height="10" fill="#26a69a" stroke="#9598a1" stroke-width="2"/>
<path d="M2184 332V436" stroke="#ef5350" stroke-width="2"/>
<rect x="2176" y="377" width="16" height="51" fill="#ef5350"/>
<path d="M2203 398V505" stroke="#ef5350" stroke-width="2"/>
<rect x="2195" y="427" width="16" height="78" fill="#ef5350"/>
<path d="M2222 406V547" stroke="#26a69a" stroke-width="2"/>
<rect x="2215" y="487.5" width="14" height="16.5" fill="#26a69a" stroke="#9598a1" stroke-width="2"/>
<path d="M2242 420V592" stroke="#26a69a" stroke-width="2"/>
<rect x="2235" y="423.5" width="14" height="62.5" fill="#26a69a" stroke="#9598a1" stroke-width="2"/>
<path d="M2261 422V552" stroke="#ef5350" stroke-width="2"/>
<rect x="2253" y="422" width="16" height="111" fill="#ef5350"/>
<path d="M2280 432V612" stroke="#ef5350" stroke-width="2"/>
<rect x="2272" y="507" width="16" height="31" fill="#ef5350"/>
<path d="M2300 499V587" stroke="#ef5350" stroke-width="2"/>
<rect x="2292" y="536" width="16" height="2" fill="#ef5350"/>
<path d="M2319 492V555.5" stroke="#26a69a" stroke-width="2"/>
<rect x="2312" y="541.5" width="14" height="13.5" fill="#26a69a" stroke="#9598a1" stroke-width="2"/>
<path d="M2338 451V540.5" stroke="#26a69a" stroke-width="2"/>
<rect x="2331" y="495.5" width="14" height="44.5" fill="#26a69a" stroke="#9598a1" stroke-width="2"/>
<path d="M2358 433V539" stroke="#26a69a" stroke-width="2"/>
<rect x="2351" y="448.5" width="14" height="36.5" fill="#26a69a" stroke="#9598a1" stroke-width="2"/>
<path d="M2377 421V479" stroke="#ef5350" stroke-width="2"/>
<rect x="2369" y="455" width="16" height="16" fill="#ef5350"/>
<path d="M2396 438V505" stroke="#ef5350" stroke-width="2"/>
<rect x="2388" y="455" width="16" height="40.5" fill="#ef5350"/>
<path d="M2416 435V539" stroke="#26a69a" stroke-width="2"/>
<rect x="2409" y="442.5" width="14" height="54.5" fill="#26a69a" stroke="#9598a1" stroke-width="2"/>
<path d="M2435 372V483" stroke="#ef5350" stroke-width="2"/>
<rect x="2427" y="443" width="16" height="16.5" fill="#ef5350"/>
<path d="M2454 402V480" stroke="#26a69a" stroke-width="2"/>
<rect x="2447" y="448" width="14" height="5.5" fill="#26a69a" stroke="#9598a1" stroke-width="2"/>
<path d="M2474 422V465" stroke="#ef5350" stroke-width="2"/>
<rect x="2466" y="447" width="16" height="10" fill="#ef5350"/>
<path d="M2493 441V498" stroke="#ef5350" stroke-width="2"/>
<rect x="2485" y="465" width="16" height="24" fill="#ef5350"/>
<path d="M2512 442V530" stroke="#ef5350" stroke-width="2"/>
<rect x="2504" y="488" width="16" height="20" fill="#ef5350"/>
<path d="M2532 483V546" stroke="#ef5350" stroke-width="2"/>
<rect x="2524" y="483" width="16" height="46.5" fill="#ef5350"/>
<path d="M2551 486V552" stroke="#26a69a" stroke-width="2"/>
<rect x="2544" y="491.5" width="14" height="40.5" fill="#26a69a" stroke="#9598a1" stroke-width="2"/>
<path d="M2570 486V534" stroke="#ef5350" stroke-width="2"/>
<rect x="2562" y="490" width="16" height="21" fill="#ef5350"/>
<path d="M2590 515V569" stroke="#ef5350" stroke-width="2"/>
<rect x="2582" y="515" width="16" height="40" fill="#ef5350"/>
<path d="M2609 540V577" stroke="#26a69a" stroke-width="2"/>
<rect x="2602" y="550" width="14" height="4.5" fill="#26a69a" stroke="#9598a1" stroke-width="2"/>
<path d="M2628 546V608" stroke="#ef5350" stroke-width="2"/>
<rect x="2620" y="549" width="16" height="33" fill="#ef5350"/>
<path d="M2648 558V610" stroke="#ef5350" stroke-width="2"/>
<rect x="2640" y="574" width="16" height="34" fill="#ef5350"/>
<path d="M2667 537V609" stroke="#26a69a" stroke-width="2"/>
<rect x="2660" y="538" width="14" height="58" fill="#26a69a" stroke="#9598a1" stroke-width="2"/>
<path d="M2686 520V575" stroke="#26a69a" stroke-width="2"/>
<rect x="2679" y="528" width="14" height="8" fill="#26a69a" stroke="#9598a1" stroke-width="2"/>
<path d="M2706 479V539.5" stroke="#26a69a" stroke-width="2"/>
<rect x="2699" y="481" width="14" height="58" fill="#26a69a" stroke="#9598a1" stroke-width="2"/>
<path d="M2725 492.5V556" stroke="#ef5350" stroke-width="2"/>
<rect x="2717" y="495" width="16" height="61" fill="#ef5350"/>
<path d="M2744 471V555" stroke="#26a69a" stroke-width="2"/>
<rect x="2737" y="481" width="14" height="65" fill="#26a69a" stroke="#9598a1" stroke-width="2"/>
<path d="M2764 472V531" stroke="#ef5350" stroke-width="2"/>
<rect x="2756" y="481" width="16" height="42" fill="#ef5350"/>
<path d="M2783 480V530" stroke="#ef5350" stroke-width="2"/>
<rect x="2775" y="504" width="16" height="24" fill="#ef5350"/>
<path d="M2802 496V532" stroke="#ef5350" stroke-width="2"/>
<rect x="2794" y="504" width="16" height="28" fill="#ef5350"/>
<path d="M2822 477V543" stroke="#26a69a" stroke-width="2"/>
<rect x="2815" y="525" width="14" height="6" fill="#26a69a" stroke="#9598a1" stroke-width="2"/>
<path d="M2841 510V545" stroke="#ef5350" stroke-width="2"/>
<rect x="2833" y="524" width="16" height="14" fill="#ef5350"/>
<path d="M2860 477V543" stroke="#26a69a" stroke-width="2"/>
<rect x="2853" y="493.5" width="14" height="43.5" fill="#26a69a" stroke="#9598a1" stroke-width="2"/>
<path d="M2880 461V518" stroke="#26a69a" stroke-width="2"/>
<rect x="2873" y="480.5" width="14" height="12.5" fill="#26a69a" stroke="#9598a1" stroke-width="2"/>
<path d="M2899 461V517" stroke="#ef5350" stroke-width="2"/>
<rect x="2891" y="470" width="16" height="33" fill="#ef5350"/>
<path d="M2919 455V506" stroke="#26a69a" stroke-width="2"/>
<rect x="2912" y="464.5" width="14" height="37.5" fill="#26a69a" stroke="#9598a1" stroke-width="2"/>
<path d="M2938 449V501" stroke="#ef5350" stroke-width="2"/>
<rect x="2930" y="463" width="16" height="38" fill="#ef5350"/>
<path d="M2957 492.5V500.5" stroke="#26a69a" stroke-width="2"/>
<rect x="2950" y="493.5" width="14" height="6.5" fill="#26a69a" stroke="#9598a1" stroke-width="2"/>
<path d="M2977 486V509" stroke="#26a69a" stroke-width="2"/>
<rect x="2970" y="487" width="14" height="4.5" fill="#26a69a" stroke="#9598a1" stroke-width="2"/>
<path d="M2996 460V518" stroke="#ef5350" stroke-width="2"/>
<rect x="2988" y="486" width="16" height="23.5" fill="#ef5350"/>
<path d="M3015 502V540" stroke="#ef5350" stroke-width="2"/>
<rect x="3007" y="509" width="16" height="5.5" fill="#ef5350"/>
<path d="M3035 501V536" stroke="#26a69a" stroke-width="2"/>
<rect x="3028" y="518" width="14" height="3" fill="#26a69a" stroke="#9598a1" stroke-width="2"/>
<path d="M3054 486V527" stroke="#26a69a" stroke-width="2"/>
<rect x="3047" y="505.5" width="14" height="11.5" fill="#26a69a" stroke="#9598a1" stroke-width="2"/>
<path d="M3073 486V524" stroke="#ef5350" stroke-width="2"/>
<rect x="3065" y="489" width="16" height="27" fill="#ef5350"/>
<path d="M3093 472V512" stroke="#26a69a" stroke-width="2"/>
<rect x="3086" y="485.5" width="14" height="9.5" fill="#26a69a" stroke="#9598a1" stroke-width="2"/>
<rect x="3104" y="488.5" width="16" height="2" fill="#9598a1"/>
</g>
<path d="M25 490H3449" stroke="#26a69a" stroke-width="2" stroke-dasharray="2 4" fill="none"/>
<path d="M25 1354H3603" stroke="#dfe3eb" stroke-width="2" fill="none"/>
<rect x="25" y="67" width="3578" height="1520" fill="none" stroke="#ebecf1" stroke-width="2"/>
<path d="M3449 67V1587" stroke="#4a4a4a" stroke-width="2" fill="none"/>
<path d="M25 1518H3603" stroke="#4a4a4a" stroke-width="2" fill="none"/>
<g clip-path="url(#ca)">
<text x="3470.5" y="166.5" font-size="26" fill="#4a4a4a" stroke="#4a4a4a" stroke-width="0.5" textLength="82.8" lengthAdjust="spacingAndGlyphs">43.500</text>
<text x="3470.5" y="249.5" font-size="26" fill="#4a4a4a" stroke="#4a4a4a" stroke-width="0.5" textLength="82.8" lengthAdjust="spacingAndGlyphs">39.500</text>
<text x="3470.5" y="340.5" font-size="26" fill="#4a4a4a" stroke="#4a4a4a" stroke-width="0.5" textLength="82.8" lengthAdjust="spacingAndGlyphs">35.500</text>
<text x="3470.5" y="442.5" font-size="26" fill="#4a4a4a" stroke="#4a4a4a" stroke-width="0.5" textLength="82.8" lengthAdjust="spacingAndGlyphs">31.500</text>
<text x="3470.5" y="558.5" font-size="26" fill="#4a4a4a" stroke="#4a4a4a" stroke-width="0.5" textLength="82.8" lengthAdjust="spacingAndGlyphs">27.500</text>
<text x="3470.5" y="657.5" font-size="26" fill="#4a4a4a" stroke="#4a4a4a" stroke-width="0.5" textLength="82.8" lengthAdjust="spacingAndGlyphs">24.500</text>
<text x="3470.5" y="729.5" font-size="26" fill="#4a4a4a" stroke="#4a4a4a" stroke-width="0.5" textLength="82.8" lengthAdjust="spacingAndGlyphs">22.500</text>
<text x="3470.5" y="809.5" font-size="26" fill="#4a4a4a" stroke="#4a4a4a" stroke-width="0.5" textLength="82.8" lengthAdjust="spacingAndGlyphs">20.500</text>
<text x="3470.5" y="897.5" font-size="26" fill="#4a4a4a" stroke="#4a4a4a" stroke-width="0.5" textLength="82.8" lengthAdjust="spacingAndGlyphs">18.500</text>
<text x="3470.5" y="969.5" font-size="26" fill="#4a4a4a" stroke="#4a4a4a" stroke-width="0.5" textLength="82.8" lengthAdjust="spacingAndGlyphs">17.000</text>
<text x="3470.5" y="1048.5" font-size="26" fill="#4a4a4a" stroke="#4a4a4a" stroke-width="0.5" textLength="82.8" lengthAdjust="spacingAndGlyphs">15.500</text>
<text x="3470.5" y="1135.5" font-size="26" fill="#4a4a4a" stroke="#4a4a4a" stroke-width="0.5" textLength="82.8" lengthAdjust="spacingAndGlyphs">14.000</text>
<text x="3470.5" y="1211.5" font-size="26" fill="#4a4a4a" stroke="#4a4a4a" stroke-width="0.5" textLength="82.8" lengthAdjust="spacingAndGlyphs">12.800</text>
<text x="3470.5" y="1295.5" font-size="26" fill="#4a4a4a" stroke="#4a4a4a" stroke-width="0.5" textLength="82.8" lengthAdjust="spacingAndGlyphs">11.600</text>
</g>
<text x="3470.5" y="1408.6" font-size="26" fill="#4a4a4a" stroke="#4a4a4a" stroke-width="0.5" textLength="68.5" lengthAdjust="spacingAndGlyphs">60.00</text>
<text x="3470.5" y="1480.8" font-size="26" fill="#4a4a4a" stroke="#4a4a4a" stroke-width="0.5" textLength="68.5" lengthAdjust="spacingAndGlyphs">40.00</text>
<path d="M3450 470.2H3587a4 4 0 0 1 4 4V537.7a4 4 0 0 1 -4 4H3450Z" fill="#26a69a"/>
<path d="M3448 470.2H3196.2a4 4 0 0 0 -4 4V505.3a4 4 0 0 0 4 4H3448Z" fill="#26a69a"/>
<text x="3470.8" y="499.7" font-size="26.2" fill="#fff" stroke="#fff" stroke-width="0.5" textLength="82.8" lengthAdjust="spacingAndGlyphs">29.450</text>
<text x="3470.8" y="531.8" font-size="26.2" fill="#cdeae7" stroke="#cdeae7" stroke-width="0.5" textLength="108" lengthAdjust="spacingAndGlyphs">03:50:54</text>
<text x="3201.4" y="499.7" font-size="26" fill="#fff" stroke="#fff" stroke-width="0.5" textLength="234.9" lengthAdjust="spacingAndGlyphs">HYPEUSDT06M2025</text>
<rect x="3458.5" y="77" width="133.5" height="64" rx="8" fill="#fff" stroke="#e2e4eb" stroke-width="1.6"/>
<text x="3482.6" y="120.7" font-size="35.8" fill="#131722" stroke="#131722" stroke-width="0.5" textLength="81" lengthAdjust="spacingAndGlyphs">USDT</text>
<text x="192" y="1561.9" font-size="26" fill="#4a4a4a" stroke="#4a4a4a" stroke-width="0.5" text-anchor="middle">5</text>
<text x="424" y="1561.9" font-size="26" fill="#4a4a4a" stroke="#4a4a4a" stroke-width="0.5" text-anchor="middle">7</text>
<text x="656" y="1561.9" font-size="26" fill="#4a4a4a" stroke="#4a4a4a" stroke-width="0.5" text-anchor="middle">9</text>
<text x="888" y="1561.9" font-size="26" fill="#4a4a4a" stroke="#4a4a4a" stroke-width="0.5" text-anchor="middle">11</text>
<text x="1120" y="1561.9" font-size="26" fill="#4a4a4a" stroke="#4a4a4a" stroke-width="0.5" text-anchor="middle">13</text>
<text x="1468" y="1561.9" font-size="26" fill="#4a4a4a" stroke="#4a4a4a" stroke-width="0.5" text-anchor="middle">16</text>
<text x="1700" y="1561.9" font-size="26" fill="#4a4a4a" stroke="#4a4a4a" stroke-width="0.5" text-anchor="middle">18</text>
<text x="1932" y="1561.9" font-size="26" fill="#4a4a4a" stroke="#4a4a4a" stroke-width="0.5" text-anchor="middle">20</text>
<text x="2280" y="1561.9" font-size="26" fill="#4a4a4a" stroke="#4a4a4a" stroke-width="0.5" text-anchor="middle">23</text>
<text x="2512" y="1561.9" font-size="26" fill="#4a4a4a" stroke="#4a4a4a" stroke-width="0.5" text-anchor="middle">25</text>
<text x="2744" y="1561.9" font-size="26" fill="#4a4a4a" stroke="#4a4a4a" stroke-width="0.5" text-anchor="middle">27</text>
<text x="3093" y="1561.9" font-size="26" fill="#4a4a4a" stroke="#4a4a4a" stroke-width="0.5" text-anchor="middle">30</text>
<text x="3325" y="1561.9" font-size="26" fill="#4a4a4a" stroke="#4a4a4a" stroke-width="0.15" textLength="59" lengthAdjust="spacingAndGlyphs" font-weight="bold" text-anchor="middle">2025</text>
<text x="26" y="48.3" font-size="29.8" fill="#131722" stroke="#131722" stroke-width="0.5" textLength="189.9" lengthAdjust="spacingAndGlyphs">Jake_Simmons</text>
<text x="229.3" y="48.3" font-size="29.8" fill="#131722" stroke="#131722" stroke-width="0.5" textLength="128" lengthAdjust="spacingAndGlyphs">published</text>
<text x="370.9" y="48.3" font-size="29.8" fill="#131722" stroke="#131722" stroke-width="0.5" textLength="32" lengthAdjust="spacingAndGlyphs">on</text>
<text x="415.5" y="48.3" font-size="29.8" fill="#131722" stroke="#131722" stroke-width="0.5" textLength="235.5" lengthAdjust="spacingAndGlyphs">TradingView.com,</text>
<text x="665" y="48.3" font-size="29.8" fill="#131722" stroke="#131722" stroke-width="0.5" textLength="46.5" lengthAdjust="spacingAndGlyphs">Dec</text>
<text x="727" y="48.3" font-size="29.8" fill="#131722" stroke="#131722" stroke-width="0.5" textLength="36" lengthAdjust="spacingAndGlyphs">30,</text>
<text x="776.5" y="48.3" font-size="29.8" fill="#131722" stroke="#131722" stroke-width="0.5" textLength="59" lengthAdjust="spacingAndGlyphs">2024</text>
<text x="845.9" y="48.3" font-size="29.8" fill="#131722" stroke="#131722" stroke-width="0.5" textLength="68.9" lengthAdjust="spacingAndGlyphs">07:09</text>
<text x="927.8" y="48.3" font-size="29.8" fill="#131722" stroke="#131722" stroke-width="0.5" textLength="77" lengthAdjust="spacingAndGlyphs">UTC-5</text>
<text x="46.4" y="115.9" font-size="29.8" fill="#4a4a4a" stroke="#4a4a4a" stroke-width="0.5" textLength="137.9" lengthAdjust="spacingAndGlyphs">HYPEUSDT</text>
<text x="196.3" y="115.9" font-size="29.8" fill="#4a4a4a" stroke="#4a4a4a" stroke-width="0.5" textLength="103" lengthAdjust="spacingAndGlyphs">Futures</text>
<text x="310.9" y="115.9" font-size="29.8" fill="#4a4a4a" stroke="#4a4a4a" stroke-width="0.5" textLength="119.9" lengthAdjust="spacingAndGlyphs">Contract</text>
<text x="444.8" y="115.9" font-size="29.8" fill="#4a4a4a" stroke="#4a4a4a" stroke-width="0.5" textLength="56" lengthAdjust="spacingAndGlyphs">(Jun</text>
<text x="512.5" y="115.9" font-size="29.8" fill="#4a4a4a" stroke="#4a4a4a" stroke-width="0.5" textLength="77.8" lengthAdjust="spacingAndGlyphs">2025),</text>
<text x="602.7" y="115.9" font-size="29.8" fill="#4a4a4a" stroke="#4a4a4a" stroke-width="0.5" textLength="38.3" lengthAdjust="spacingAndGlyphs">4h,</text>
<text x="656" y="115.9" font-size="29.8" fill="#4a4a4a" stroke="#4a4a4a" stroke-width="0.5" textLength="54.5" lengthAdjust="spacingAndGlyphs">OKX</text>
<text x="733.4" y="115.9" font-size="29.8" fill="#4a4a4a" stroke="#4a4a4a" stroke-width="0.5" textLength="18.6" lengthAdjust="spacingAndGlyphs">O</text>
<text x="755.9" y="115.9" font-size="29.8" fill="#9598a1" stroke="#9598a1" stroke-width="0.5" textLength="84.3" lengthAdjust="spacingAndGlyphs">29.450</text>
<text x="861.9" y="115.9" font-size="29.8" fill="#4a4a4a" stroke="#4a4a4a" stroke-width="0.5" textLength="16.5" lengthAdjust="spacingAndGlyphs">H</text>
<text x="880.6" y="115.9" font-size="29.8" fill="#9598a1" stroke="#9598a1" stroke-width="0.5" textLength="84.3" lengthAdjust="spacingAndGlyphs">29.450</text>
<text x="987.5" y="115.9" font-size="29.8" fill="#4a4a4a" stroke="#4a4a4a" stroke-width="0.5" textLength="12.5" lengthAdjust="spacingAndGlyphs">L</text>
<text x="1001" y="115.9" font-size="29.8" fill="#9598a1" stroke="#9598a1" stroke-width="0.5" textLength="84.3" lengthAdjust="spacingAndGlyphs">29.450</text>
<text x="1105.7" y="115.9" font-size="29.8" fill="#4a4a4a" stroke="#4a4a4a" stroke-width="0.5" textLength="15.7" lengthAdjust="spacingAndGlyphs">C</text>
<text x="1123.4" y="115.9" font-size="29.8" fill="#9598a1" stroke="#9598a1" stroke-width="0.5" textLength="84.3" lengthAdjust="spacingAndGlyphs">29.450</text>
<text x="1229" y="115.9" font-size="29.8" fill="#9598a1" stroke="#9598a1" stroke-width="0.5" textLength="85" lengthAdjust="spacingAndGlyphs">−0.224</text>
<text x="1326" y="115.9" font-size="29.8" fill="#9598a1" stroke="#9598a1" stroke-width="0.5" textLength="103.4" lengthAdjust="spacingAndGlyphs">(−0.75%)</text>
<text x="46.4" y="157" font-size="29.8" fill="#4a4a4a" stroke="#4a4a4a" stroke-width="0.5" textLength="39.2" lengthAdjust="spacingAndGlyphs">Vol</text>
<text x="117" y="157" font-size="29.8" fill="#4a4a4a" stroke="#4a4a4a" stroke-width="0.5" textLength="67.3" lengthAdjust="spacingAndGlyphs">USDT</text>
<text x="101" y="160.5" font-size="46" fill="#4a4a4a" stroke="#4a4a4a" stroke-width="0.5" text-anchor="middle">·</text>
<text x="205.9" y="157" font-size="29.8" fill="#ef5350" stroke="#ef5350" stroke-width="0.5" textLength="28.4" lengthAdjust="spacingAndGlyphs">59</text>
<text x="46.4" y="200" font-size="29.8" fill="#4a4a4a" stroke="#4a4a4a" stroke-width="0.5" textLength="55.6" lengthAdjust="spacingAndGlyphs">EMA</text>
<text x="113" y="200" font-size="29.8" fill="#4a4a4a" stroke="#4a4a4a" stroke-width="0.5" textLength="194.3" lengthAdjust="spacingAndGlyphs">20/50/100/200</text>
<text x="327.9" y="200" font-size="29.8" fill="#ff0000" stroke="#ff0000" stroke-width="0.5" textLength="84.4" lengthAdjust="spacingAndGlyphs">29.020</text>
<text x="432.8" y="200" font-size="29.8" fill="#ff7f00" stroke="#ff7f00" stroke-width="0.5" textLength="84" lengthAdjust="spacingAndGlyphs">28.736</text>
<text x="537.6" y="200" font-size="29.8" fill="#00ffff" stroke="#00ffff" stroke-width="0.5" textLength="85" lengthAdjust="spacingAndGlyphs">26.517</text>
<text x="644.5" y="201.5" font-size="33" fill="#4a4a4a" stroke="#4a4a4a" stroke-width="0.5" textLength="25" lengthAdjust="spacingAndGlyphs">∅</text>
<text x="45.75" y="1403.75" font-size="29.8" fill="#4a4a4a" stroke="#4a4a4a" stroke-width="0.5" textLength="38.5" lengthAdjust="spacingAndGlyphs">RSI</text>
<text x="97.5" y="1403.75" font-size="29.8" fill="#4a4a4a" stroke="#4a4a4a" stroke-width="0.5" textLength="45.5" lengthAdjust="spacingAndGlyphs">(14,</text>
<text x="155" y="1403.75" font-size="29.8" fill="#4a4a4a" stroke="#4a4a4a" stroke-width="0.5" textLength="82" lengthAdjust="spacingAndGlyphs">close)</text>
<text x="258.75" y="1403.75" font-size="29.8" fill="#7e57c2" stroke="#7e57c2" stroke-width="0.5" textLength="68.25" lengthAdjust="spacingAndGlyphs">52.39</text>
<text x="348.75" y="1403.75" font-size="29.8" fill="#ffeb3b" stroke="#ffeb3b" stroke-width="0.5" textLength="68.25" lengthAdjust="spacingAndGlyphs">51.45</text>
<text x="439.5" y="1405.25" font-size="33" fill="#4a4a4a" stroke="#4a4a4a" stroke-width="0.5" textLength="24" lengthAdjust="spacingAndGlyphs">∅</text>
<text x="488.8" y="1405.25" font-size="33" fill="#4a4a4a" stroke="#4a4a4a" stroke-width="0.5" textLength="24" lengthAdjust="spacingAndGlyphs">∅</text>
<g fill="#131722">
<path d="M25.5 1617.3H44.3V1641.7H35.2V1626.6H25.5Z"/>
<circle cx="52.8" cy="1622.7" r="5.5"/>
<path d="M62.7 1617.3H73.5L63.6 1641.7H52.8Z"/>
</g>
<text x="83" y="1643.6" font-size="32.8" fill="#131722" stroke="#131722" stroke-width="0.5" textLength="176" lengthAdjust="spacingAndGlyphs">TradingView</text>
</svg>
</body></html>
